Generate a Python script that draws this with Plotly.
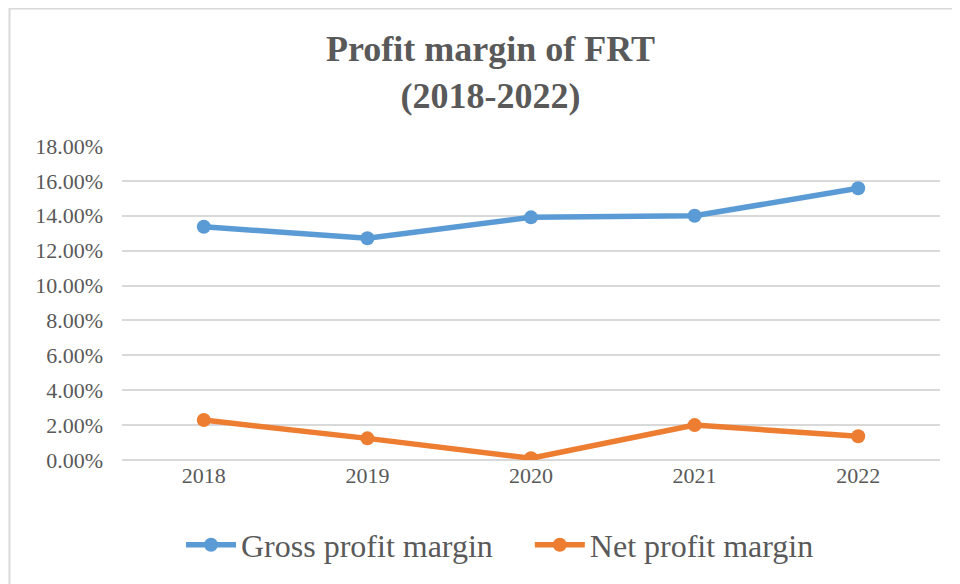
import plotly.graph_objects as go

years = ["2018", "2019", "2020", "2021", "2022"]
gross_margin = [0.1337, 0.1271, 0.1391, 0.1400, 0.1558]
net_margin = [0.0229, 0.0124, 0.0010, 0.0200, 0.0136]
y_ticks = [0, 0.02, 0.04, 0.06, 0.08, 0.10, 0.12, 0.14, 0.16, 0.18]

FONT = "Liberation Serif, Times New Roman, serif"
GREY = "#595959"

W, H = 952, 576
L, T, PW, PH = 114, 138, 818, 314

fig = go.Figure()
fig.add_trace(go.Scatter(x=years, y=gross_margin,
                         name="Gross profit margin\u00a0\u00a0\u00a0\u00a0",
                         mode="lines+markers",
                         line=dict(color="#5B9BD5", width=5.5),
                         marker=dict(size=14, color="#5B9BD5")))
fig.add_trace(go.Scatter(x=years, y=net_margin, name="Net profit margin",
                         mode="lines+markers",
                         line=dict(color="#ED7D31", width=5.5),
                         marker=dict(size=14, color="#ED7D31")))

fig.update_layout(
    width=W, height=H,
    margin=dict(l=L, r=W - L - PW, t=T, b=H - T - PH, autoexpand=False),
    paper_bgcolor="white", plot_bgcolor="white",
    font=dict(family=FONT, color=GREY),
    xaxis=dict(type="category", range=[-0.5, 4.5], showgrid=False,
               showline=False, ticks="", tickfont=dict(size=22, color=GREY)),
    yaxis=dict(range=[0, 0.18], tickvals=y_ticks, tickformat=".2%",
               showgrid=True, gridcolor="#D9D9D9", gridwidth=1.5,
               zeroline=True, zerolinecolor="#D9D9D9", zerolinewidth=1.5,
               showline=False, ticks="", ticklabelstandoff=18,
               tickfont=dict(size=22, color=GREY)),
    legend=dict(orientation="h", x=(492 - L) / PW, xanchor="center",
                y=-85 / PH, yanchor="middle",
                font=dict(size=32, color=GREY), itemwidth=50,
                tracegroupgap=0),
    showlegend=True,
)

fig.add_annotation(text="<b>Profit margin of FRT<br>(2018-2022)</b>",
                   xref="paper", yref="paper",
                   x=(482 - L) / PW, y=1 + (T - 64.5) / PH,
                   xanchor="center", yanchor="middle", showarrow=False,
                   font=dict(family=FONT, size=36, color=GREY))

# outer chart border
fig.add_shape(type="rect", xref="paper", yref="paper",
              x0=(1.5 - L) / PW, x1=1.1, y0=-0.6, y1=1 + (T - 0.5) / PH,
              line=dict(color="#D9D9D9", width=2), fillcolor="rgba(0,0,0,0)",
              layer="below")

fig.write_html("out.html")
